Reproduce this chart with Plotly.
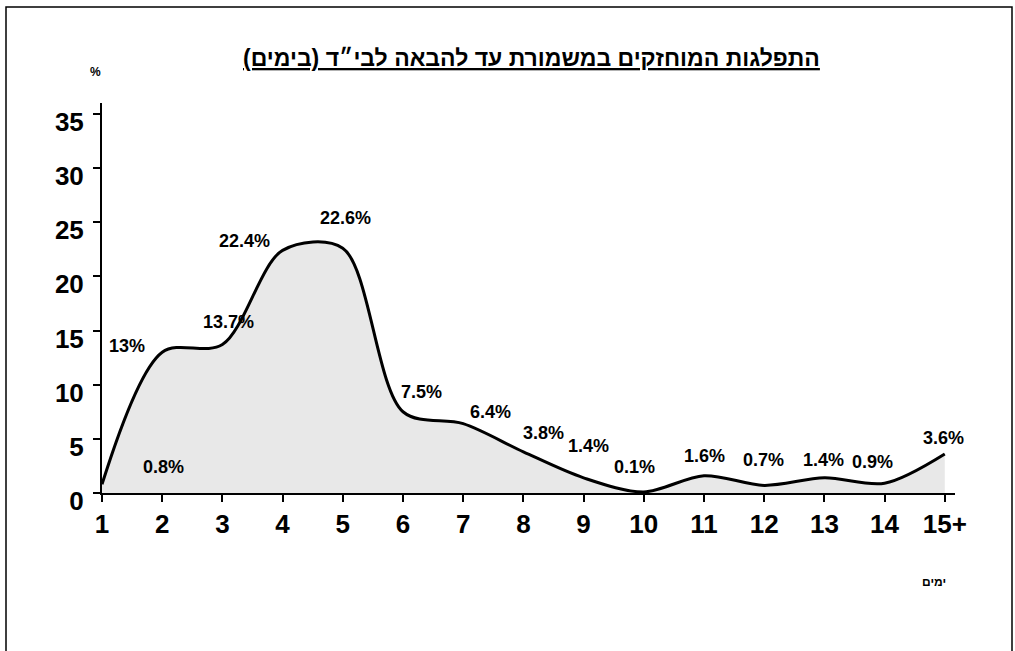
import plotly.graph_objects as go

days = list(range(1, 16))
day_labels = ["1", "2", "3", "4", "5", "6", "7", "8", "9", "10", "11", "12", "13", "14", "15+"]
percent = [0.8, 13, 13.7, 22.4, 22.6, 7.5, 6.4, 3.8, 1.4, 0.1, 1.6, 0.7, 1.4, 0.9, 3.6]
value_labels = ["0.8%", "13%", "13.7%", "22.4%", "22.6%", "7.5%", "6.4%", "3.8%", "1.4%",
                "0.1%", "1.6%", "0.7%", "1.4%", "0.9%", "3.6%"]
y_ticks = [0, 5, 10, 15, 20, 25, 30, 35]
title_text = "התפלגות המוחזקים במשמורת עד להבאה לבי״ד (בימים)"

# label offsets in pixels (styling)
label_shift = [(61, 17), (-35, 6), (6, 23), (-38, 9), (3, 30), (19, 20), (27, 12), (20, 19),
               (5, 32), (-9, 25), (1, 20), (-1, 25), (-1, 18), (-12, 21), (-1, 16)]

W, H = 1015, 651
ML, MR, MT, MB = 102, 60, 103, 158
PW, PH = W - ML - MR, H - MT - MB

FONT = "Liberation Sans, Arial, sans-serif"

fig = go.Figure()
fig.add_trace(go.Scatter(
    x=days, y=percent, mode="lines",
    line=dict(color="black", width=3, shape="spline", smoothing=0.9),
    fill="tozeroy", fillcolor="#e8e8e8",
    hoverinfo="skip", showlegend=False,
))

annotations = []
for d, v, t, (dx, dy) in zip(days, percent, value_labels, label_shift):
    annotations.append(dict(x=d, y=v, xref="x", yref="y", text=f"<b>{t}</b>",
                            showarrow=False, xshift=dx, yshift=dy,
                            xanchor="center", yanchor="middle",
                            font=dict(family=FONT, size=18, color="black")))

def px_x(p):
    return (p - ML) / PW

def px_y(p):
    return 1 - (p - MT) / PH

annotations.append(dict(x=px_x(531), y=px_y(58), xref="paper", yref="paper",
                        text=f"<b><u>{title_text}</u></b>", showarrow=False,
                        xanchor="center", yanchor="middle",
                        font=dict(family=FONT, size=23, color="black")))
annotations.append(dict(x=px_x(95), y=px_y(72), xref="paper", yref="paper",
                        text="<b>%</b>", showarrow=False,
                        xanchor="center", yanchor="middle",
                        font=dict(family=FONT, size=12, color="black")))
annotations.append(dict(x=px_x(934), y=px_y(582), xref="paper", yref="paper",
                        text="<b>ימים</b>", showarrow=False,
                        xanchor="center", yanchor="middle",
                        font=dict(family=FONT, size=12, color="black")))

fig.update_layout(
    width=W, height=H,
    margin=dict(l=ML, r=MR, t=MT, b=MB),
    paper_bgcolor="white", plot_bgcolor="white",
    annotations=annotations,
    shapes=[dict(type="rect", xref="paper", yref="paper",
                 x0=px_x(6), x1=px_x(1012), y0=px_y(660), y1=px_y(7),
                 line=dict(color="black", width=1.5), fillcolor="rgba(0,0,0,0)", layer="below")],
    xaxis=dict(range=[1, 15.17], tickmode="array", tickvals=days, ticktext=day_labels,
               showgrid=False, zeroline=False, showline=True, linecolor="black", linewidth=2,
               ticks="outside", ticklen=7, tickwidth=2, tickcolor="black",
               ticklabelstandoff=0,
               tickfont=dict(family=FONT, size=26, color="black", weight="bold")),
    yaxis=dict(range=[0, 36], tickmode="array", tickvals=y_ticks,
               showgrid=False, zeroline=False, showline=True, linecolor="black", linewidth=2,
               ticks="outside", ticklen=7, tickwidth=2, tickcolor="black",
               ticklabelstandoff=4, ticklabelshift=8,
               tickfont=dict(family=FONT, size=26, color="black", weight="bold")),
)

fig.write_html("out.html", config={"displayModeBar": False},
               post_script="document.body.style.margin='0px';document.body.style.overflow='hidden';")
